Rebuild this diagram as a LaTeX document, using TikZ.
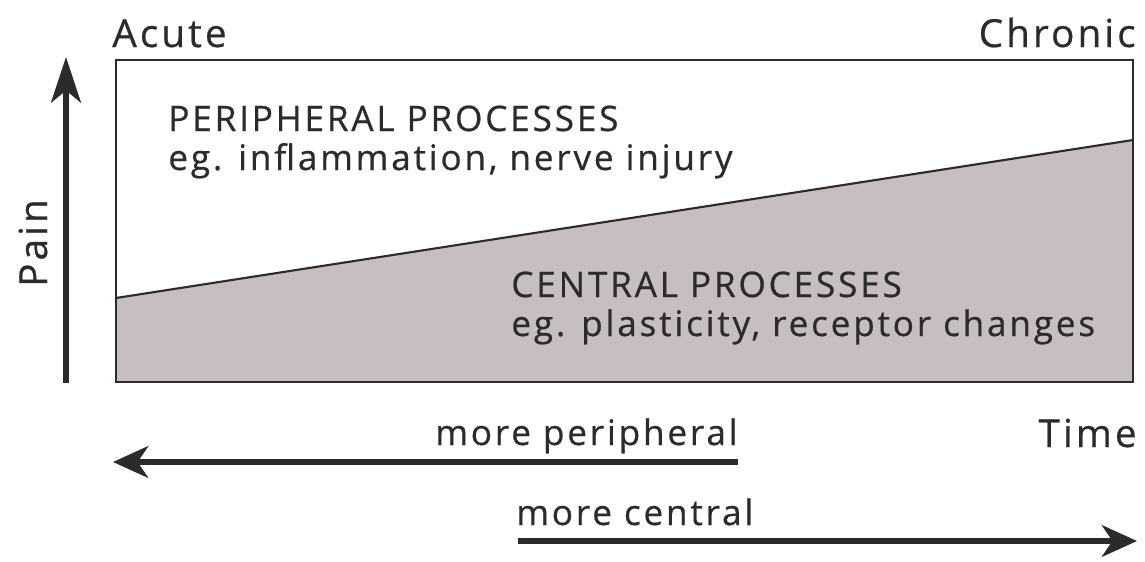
\documentclass[tikz,border=0pt]{standalone}
\usepackage{fontspec}
\setmainfont{Open Sans}[LetterSpace=8, FakeBold=0.6]
\usetikzlibrary{arrows.meta}
\definecolor{ink}{RGB}{45,42,44}
\definecolor{central}{RGB}{198,190,192}
\tikzset{
  lbl/.style={inner sep=0pt, text=ink, font=\fontsize{22}{25}\selectfont},
  body/.style={inner sep=0pt, text=ink, font=\fontsize{20}{24}\selectfont, align=left},
  frame/.style={draw=ink, line width=1.2pt},
  bigarrow/.style={draw=ink, line width=3.2pt, -{Stealth[length=20pt, width=18pt, inset=6pt]}},
  painarrow/.style={draw=ink, line width=3pt, -{Stealth[length=26pt, width=17pt, inset=7pt]}},
}
\begin{document}
\begin{tikzpicture}[x=0.02cm, y=-0.02cm]
\useasboundingbox (0,0) rectangle (1145,561);
% box corners
\coordinate (tl) at (116,60);
\coordinate (tr) at (1133,60);
\coordinate (br) at (1133,382);
\coordinate (bl) at (116,382);
\coordinate (sl) at (116,298);
\coordinate (sr) at (1133,140);
\fill[central] (sl) -- (sr) -- (br) -- (bl) -- cycle;
\draw[frame] (tl) rectangle (br);
\draw[frame] (sl) -- (sr);
% texts
\node[lbl, anchor=base west] (acute) at (112,47) {Acute};
\node[lbl, anchor=base east] (chronic) at (1136,47) {Chronic};
\node[lbl, anchor=base, rotate=90] (pain) at (47,243) {Pain};
\node[lbl, anchor=base east] (time) at (1137,447) {Time};
\node[body, anchor=base west] (periph) at (168,131) {PERIPHERAL PROCESSES};
\node[body, anchor=base west] (periph2) at (168,170) {eg. inflammation, nerve injury};
\node[body, anchor=base west] (central1) at (511,297) {CENTRAL PROCESSES};
\node[body, anchor=base west] (central2) at (511,336) {eg. plasticity, receptor changes};
\node[body, anchor=base east] (mp) at (738,445) {more peripheral};
\node[body, anchor=base west] (mc) at (516,525) {more central};
% arrows
\coordinate (painlo) at (66,383);
\coordinate (painhi) at (66,57);
\draw[painarrow] (painlo) -- (painhi);
\coordinate (pstart) at (738,462);
\coordinate (pend) at (113,462);
\draw[bigarrow] (pstart) -- (pend);
\coordinate (cstart) at (518,541);
\coordinate (cend) at (1137,541);
\draw[bigarrow] (cstart) -- (cend);
\end{tikzpicture}
\end{document}
